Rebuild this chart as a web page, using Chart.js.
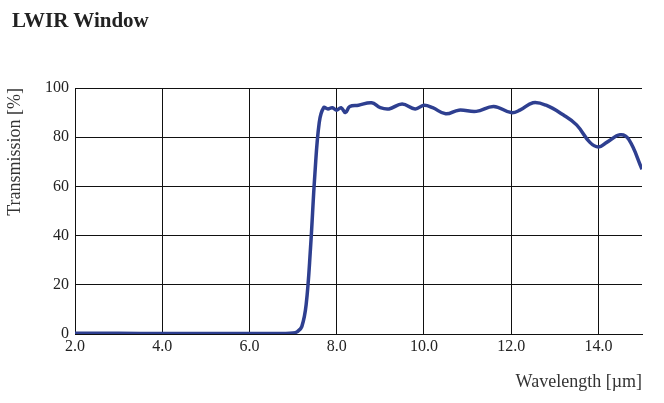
<!DOCTYPE html>
<html><head><meta charset="utf-8">
<script src="https://cdn.jsdelivr.net/npm/chart.js"></script>
<style>body{margin:0;background:#fff}#t{position:absolute;left:12px;top:8px;font:bold 21px "Liberation Serif",serif;color:#222}#w{position:absolute;left:0;top:0;width:664px;height:403px}</style>
</head><body>
<div id="w"><canvas id="c" width="664" height="403"></canvas></div>
<div id="t">LWIR Window</div>
<script>
const wavelength=[2.0,3.0,4.0,5.0,6.0,6.8,7.0,7.1,7.2,7.3,7.4,7.5,7.6,7.7,7.8,7.9,8.0,8.1,8.2,8.3,8.5,8.8,9.0,9.2,9.5,9.8,10.0,10.2,10.5,10.8,11.2,11.6,12.0,12.2,12.5,12.8,13.2,13.5,13.8,14.0,14.2,14.5,14.7,15.0];
const transmission=[0.3,0.3,0.2,0.2,0.2,0.2,0.4,1,3,12,35,65,86,92,91.5,92,91,92,90,92.5,93,94,92,91.5,93.5,91.5,93,92,89.5,91,90.5,92.5,90,91,94,93,89,85,78,76,78,81,79,67];
const xTicks=[2,4,6,8,10,12,14];
const serif='"Liberation Serif", serif';
new Chart(document.getElementById('c'),{type:'line',
data:{datasets:[{data:wavelength.map((x,i)=>({x,y:transmission[i]})),borderColor:'#2e3f90',borderWidth:3.5,pointRadius:0,tension:0.4,fill:false}]},
options:{responsive:false,animation:false,layout:{padding:{top:88,right:22,left:0,bottom:6}},
plugins:{legend:{display:false},tooltip:{enabled:false}},
scales:{
x:{type:'linear',min:2,max:15,afterBuildTicks:a=>{a.ticks=xTicks.map(v=>({value:v}))},afterFit:a=>{a.height=63},
ticks:{color:'#222',font:{family:serif,size:16},callback:v=>v.toFixed(1),maxRotation:0},
grid:{color:'#111',lineWidth:1,drawTicks:false},border:{color:'#111'},
title:{display:true,text:'Wavelength [µm]',align:'end',color:'#333',font:{family:serif,size:18}}},
y:{min:0,max:100,afterFit:a=>{a.width=75},
ticks:{stepSize:20,color:'#222',font:{family:serif,size:16},padding:6},
grid:{color:'#111',lineWidth:1,drawTicks:false},border:{color:'#111'},
title:{display:true,text:'Transmission [%]',align:'end',color:'#333',font:{family:serif,size:18}}}}}});
</script></body></html>
